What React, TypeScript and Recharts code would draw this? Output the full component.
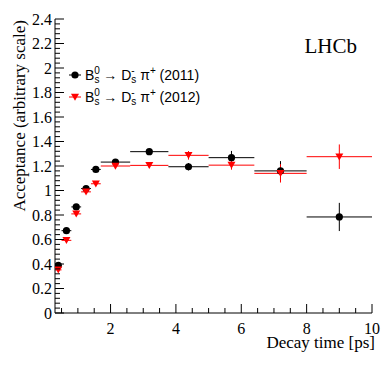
import React from 'react';
import { ComposedChart, Scatter, XAxis, YAxis, ErrorBar, Legend, Customized } from 'recharts';

// Decay-time bins (ps)
const timeBinCenter = [0.4, 0.65, 0.95, 1.25, 1.55, 2.15, 3.185, 4.385, 5.7, 7.2, 9.0];
const timeBinHalfWidth = [0.1, 0.15, 0.15, 0.15, 0.15, 0.45, 0.585, 0.615, 0.7, 0.8, 1.0];

// Acceptance, 2011 sample
const acc2011 = [0.388, 0.672, 0.866, 1.016, 1.172, 1.232, 1.317, 1.194, 1.268, 1.16, 0.784];
const err2011 = [0.012, 0.012, 0.012, 0.015, 0.018, 0.018, 0.02, 0.03, 0.055, 0.08, 0.115];

// Acceptance, 2012 sample
const acc2012 = [0.352, 0.593, 0.809, 0.989, 1.055, 1.2, 1.205, 1.287, 1.207, 1.14, 1.276];
const err2012 = [0.008, 0.008, 0.008, 0.01, 0.012, 0.012, 0.015, 0.035, 0.037, 0.075, 0.1];

// Axis ticks
const xMajorTicks = [2, 4, 6, 8, 10];
const xMinorTicks = [0.5, 1, 1.5, 2.5, 3, 3.5, 4.5, 5, 5.5, 6.5, 7, 7.5, 8.5, 9, 9.5];
const yMajorTicks = [0, 0.2, 0.4, 0.6, 0.8, 1, 1.2, 1.4, 1.6, 1.8, 2, 2.2, 2.4];
const yMinorSubdivisions = 5;

const xTicks = [...xMajorTicks, ...xMinorTicks].sort((a, b) => a - b);
const yTicks: number[] = [];
for (let i = 0; i < yMajorTicks.length - 1; i++) {
  for (let j = 0; j < yMinorSubdivisions; j++) {
    const v = yMajorTicks[i] + ((yMajorTicks[i + 1] - yMajorTicks[i]) * j) / yMinorSubdivisions;
    yTicks.push(Math.round(v * 1000) / 1000);
  }
}
yTicks.push(yMajorTicks[yMajorTicks.length - 1]);

const data2011 = timeBinCenter.map((x, i) => ({ x, y: acc2011[i], ex: timeBinHalfWidth[i], ey: err2011[i] }));
const data2012 = timeBinCenter.map((x, i) => ({ x, y: acc2012[i], ex: timeBinHalfWidth[i], ey: err2012[i] }));

const SERIF = '"Liberation Serif", "Times New Roman", serif';
const SANS = '"Liberation Sans", Arial, sans-serif';

const isXMajor = (v: number) => xMajorTicks.includes(v);
const isYMajor = (v: number) => yMajorTicks.some((m) => Math.abs(m - v) < 1e-6);

const XTickBottom = (props: any) => {
  const { x, y, payload } = props;
  const major = isXMajor(payload.value);
  return (
    <g>
      <line x1={x} x2={x} y1={y} y2={y - (major ? 9 : 5)} stroke="#000" strokeWidth={1} />
      {major && (
        <text x={x} y={y + 21} textAnchor="middle" fontFamily={SERIF} fontSize={16} fill="#000">
          {payload.value}
        </text>
      )}
    </g>
  );
};

const XTickTop = (props: any) => {
  const { x, y, payload } = props;
  const major = isXMajor(payload.value);
  return <line x1={x} x2={x} y1={y} y2={y + (major ? 9 : 5)} stroke="#000" strokeWidth={1} />;
};

const YTickLeft = (props: any) => {
  const { x, y, payload } = props;
  const major = isYMajor(payload.value);
  return (
    <g>
      <line x1={x} x2={x + (major ? 9 : 5)} y1={y} y2={y} stroke="#000" strokeWidth={1} />
      {major && (
        <text x={x - 3} y={y + 5.5} textAnchor="end" fontFamily={SERIF} fontSize={16} fill="#000">
          {String(Math.round(payload.value * 10) / 10)}
        </text>
      )}
    </g>
  );
};

const YTickRight = (props: any) => {
  const { x, y, payload } = props;
  const major = isYMajor(payload.value);
  return <line x1={x} x2={x - (major ? 9 : 5)} y1={y} y2={y} stroke="#000" strokeWidth={1} />;
};

const Dot = (props: any) => <circle cx={props.cx} cy={props.cy} r={3.6} fill="#000" />;
const TriDown = (props: any) => {
  const { cx, cy } = props;
  return <polygon points={`${cx - 4},${cy - 3.3} ${cx + 4},${cy - 3.3} ${cx},${cy + 3.7}`} fill="#ff0000" />;
};

const LegendRow = ({ y, year, color, marker }: { y: number; year: string; color: string; marker: 'dot' | 'tri' }) => (
  <g>
    <line x1={7} x2={19} y1={y} y2={y} stroke={color} strokeWidth={1} />
    {marker === 'dot' ? (
      <circle cx={13} cy={y} r={3.6} fill={color} />
    ) : (
      <polygon points={`${13 - 4},${y - 3.3} ${13 + 4},${y - 3.3} ${13},${y + 3.7}`} fill={color} />
    )}
    <text x={23} y={y + 5} fontFamily={SANS} fontSize={14} fill="#000">
      B
      <tspan dy={-6} fontSize={10}>0</tspan>
      <tspan dx={-5.5} dy={9} fontSize={10}>s</tspan>
      <tspan dy={-3}>{' \u2192 D'}</tspan>
      <tspan dy={-6} fontSize={10}>-</tspan>
      <tspan dx={-3.3} dy={9} fontSize={10}>s</tspan>
      <tspan dy={-3}>{' \u03c0'}</tspan>
      <tspan dy={-6} fontSize={10}>+</tspan>
      <tspan dy={6}>{` (${year})`}</tspan>
    </text>
  </g>
);

const LegendContent = () => (
  <svg width={150} height={46} style={{ overflow: 'visible' }}>
    <LegendRow y={13} year="2011" color="#000" marker="dot" />
    <LegendRow y={35} year="2012" color="#ff0000" marker="tri" />
  </svg>
);

const Annotations = () => (
  <g>
    <text x={357} y={53} textAnchor="end" fontFamily={SERIF} fontSize={21} fill="#000">LHCb</text>
    <text x={375} y={348} textAnchor="end" fontFamily={SERIF} fontSize={17} fill="#000">Decay time [ps]</text>
    <text transform="translate(25,20) rotate(-90)" x={0} y={0} textAnchor="end" fontFamily={SERIF} fontSize={17} fill="#000">
      Acceptance (arbitrary scale)
    </text>
  </g>
);

export default function App() {
  return (
    <div style={{ position: 'absolute', left: 0, top: 0, width: 392, height: 373, background: '#fff' }}>
      <ComposedChart width={392} height={373} margin={{ top: 19, right: 20, bottom: 0, left: 0 }}>
        <XAxis
          xAxisId="b"
          dataKey="x"
          type="number"
          orientation="bottom"
          domain={[0.3, 10]}
          allowDataOverflow
          ticks={xTicks}
          interval={0}
          tickSize={0}
          tickMargin={0}
          tickLine={false}
          tick={<XTickBottom />}
          axisLine={{ stroke: '#000', strokeWidth: 1 }}
          height={60}
        />
        <XAxis
          xAxisId="t"
          dataKey="x"
          type="number"
          orientation="top"
          domain={[0.3, 10]}
          allowDataOverflow
          ticks={xTicks}
          interval={0}
          tickSize={0}
          tickMargin={0}
          tickLine={false}
          tick={<XTickTop />}
          axisLine={{ stroke: '#000', strokeWidth: 1 }}
          height={0}
        />
        <YAxis
          yAxisId="l"
          type="number"
          orientation="left"
          domain={[0, 2.4]}
          allowDataOverflow
          ticks={yTicks}
          interval={0}
          tickSize={0}
          tickMargin={0}
          tickLine={false}
          tick={<YTickLeft />}
          axisLine={{ stroke: '#000', strokeWidth: 1 }}
          width={55}
        />
        <YAxis
          yAxisId="r"
          type="number"
          orientation="right"
          domain={[0, 2.4]}
          allowDataOverflow
          ticks={yTicks}
          interval={0}
          tickSize={0}
          tickMargin={0}
          tickLine={false}
          tick={<YTickRight />}
          axisLine={{ stroke: '#000', strokeWidth: 1 }}
          width={0}
        />
        <Scatter
          name="2011"
          data={data2011}
          dataKey="y"
          xAxisId="b"
          yAxisId="l"
          shape={<Dot />}
          isAnimationActive={false}
        >
          <ErrorBar dataKey="ex" direction="x" width={0} stroke="#000" strokeWidth={1} isAnimationActive={false} />
          <ErrorBar dataKey="ey" direction="y" width={0} stroke="#000" strokeWidth={1} isAnimationActive={false} />
        </Scatter>
        <Scatter
          name="2012"
          data={data2012}
          dataKey="y"
          xAxisId="t"
          yAxisId="r"
          shape={<TriDown />}
          isAnimationActive={false}
        >
          <ErrorBar dataKey="ex" direction="x" width={0} stroke="#ff0000" strokeWidth={1} isAnimationActive={false} />
          <ErrorBar dataKey="ey" direction="y" width={0} stroke="#ff0000" strokeWidth={1} isAnimationActive={false} />
        </Scatter>
        <Legend
          layout="horizontal"
          verticalAlign="middle"
          align="center"
          content={<LegendContent />}
          wrapperStyle={{ position: 'absolute', left: 62, top: 62, width: 150, height: 46 }}
        />
        <Customized component={<Annotations />} />
      </ComposedChart>
    </div>
  );
}
